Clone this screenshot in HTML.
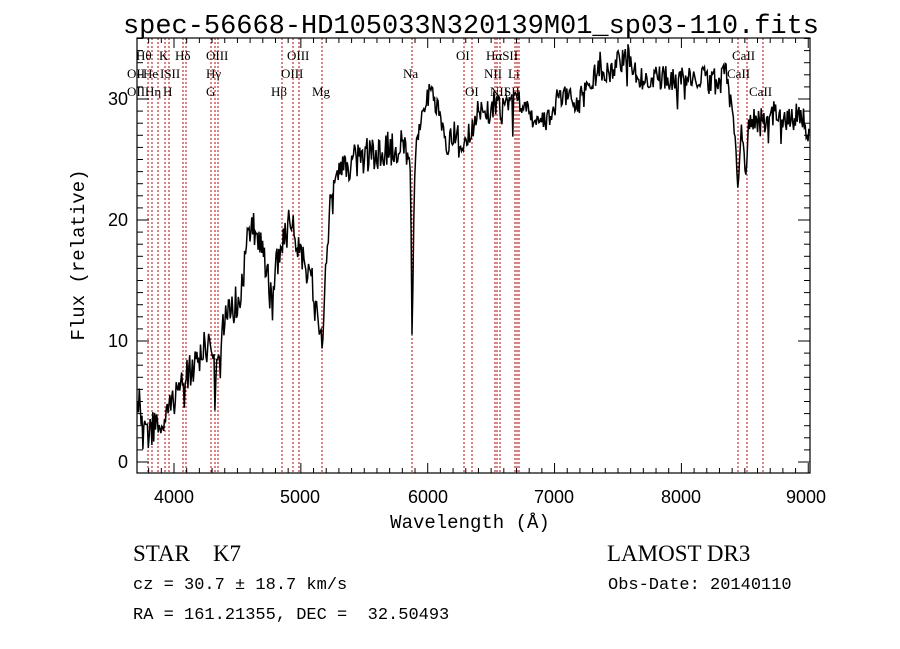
<!DOCTYPE html>
<html><head><meta charset="utf-8"><style>
html,body{margin:0;padding:0;background:#fff;width:900px;height:649px;overflow:hidden}
svg{display:block}
text{font-family:"Liberation Serif",serif;fill:#000;white-space:pre}
.t{font-family:"Liberation Sans",sans-serif;font-size:18px}
.l{font-size:13px}
</style></head><body>
<svg id="s" width="900" height="649" xmlns="http://www.w3.org/2000/svg" xml:space="preserve">
<rect width="900" height="649" fill="#fff"/>
<g id="red" stroke="#c00000" stroke-width="1" stroke-dasharray="2,2"></g>
<polyline id="spec" fill="none" stroke="#000" stroke-width="1.5" points=""/>
<rect x="137" y="38" width="673" height="435" fill="none" stroke="#000" stroke-width="1.2"/>
<g id="ticks" stroke="#000" stroke-width="1"></g>
<text x="471" y="33" text-anchor="middle" style="font-size:27px;font-family:'Liberation Mono',monospace" textLength="696">spec-56668-HD105033N320139M01_sp03-110.fits</text>
<text x="174" y="503" class="t" text-anchor="middle">4000</text><text x="300" y="503" class="t" text-anchor="middle">5000</text><text x="428" y="503" class="t" text-anchor="middle">6000</text><text x="554" y="503" class="t" text-anchor="middle">7000</text><text x="681" y="503" class="t" text-anchor="middle">8000</text><text x="806" y="503" class="t" text-anchor="middle">9000</text>
<text x="128" y="468" class="t" text-anchor="end">0</text><text x="128" y="347" class="t" text-anchor="end">10</text><text x="128" y="226" class="t" text-anchor="end">20</text><text x="128" y="105" class="t" text-anchor="end">30</text>
<text x="470" y="528" text-anchor="middle" style="font-size:19px;font-family:'Liberation Mono',monospace">Wavelength (Å)</text>
<text transform="translate(84,255) rotate(-90)" text-anchor="middle" style="font-size:19px;font-family:'Liberation Mono',monospace">Flux (relative)</text>
<g class="l">
<text x="136" y="60" class="l">Hθ</text><text x="159" y="60" class="l">K</text><text x="175" y="60" class="l">Hδ</text><text x="206" y="60" class="l">OIII</text><text x="287" y="60" class="l">OIII</text><text x="456" y="60" class="l">OI</text><text x="486" y="60" class="l">HαSII</text><text x="732" y="60" class="l">CaII</text>
<text x="127" y="78" class="l">OII</text><text x="143" y="78" class="l">He</text><text x="160" y="78" class="l">ISII</text><text x="206" y="78" class="l">Hγ</text><text x="281" y="78" class="l">OIII</text><text x="403" y="78" class="l">Na</text><text x="484" y="78" class="l">NII</text><text x="508" y="78" class="l">Li</text><text x="727" y="78" class="l">CaII</text>
<text x="127" y="96" class="l">OII</text><text x="145" y="96" class="l">Hη</text><text x="163" y="96" class="l">H</text><text x="206" y="96" class="l">G</text><text x="271" y="96" class="l">Hβ</text><text x="312" y="96" class="l">Mg</text><text x="465" y="96" class="l">OI</text><text x="490" y="96" class="l">NII</text><text x="504" y="96" class="l">SII</text><text x="749" y="96" class="l">CaII</text>
</g>
<text x="133" y="561" style="font-size:23px">STAR    K7</text>
<text x="607" y="561" style="font-size:23px">LAMOST DR3</text>
<text x="133" y="589" style="font-size:17px;font-family:'Liberation Mono',monospace">cz = 30.7 ± 18.7 km/s</text>
<text x="608" y="589" style="font-size:17px;font-family:'Liberation Mono',monospace">Obs-Date: 20140110</text>
<text x="133" y="619" style="font-size:17px;font-family:'Liberation Mono',monospace">RA = 161.21355, DEC =  32.50493</text>
</svg>
<script>
var NS="http://www.w3.org/2000/svg";
function ln(g,x1,y1,x2,y2){var l=document.createElementNS(NS,"line");l.setAttribute("x1",x1);l.setAttribute("y1",y1);l.setAttribute("x2",x2);l.setAttribute("y2",y2);g.appendChild(l);}
var red=document.getElementById("red");
[137,148,152,158,165,169,183,186,211,215,218,282,293,299,322,412,464,472,495,497,500,515,517,519,738,747,763].forEach(function(x){ln(red,x,38,x,473);});
var tk=document.getElementById("ticks");
function wx(w){return 174+(w-4000)*0.12685;}
for(var w=3800;w<=9000;w+=100){var x=wx(w);if(x<137||x>810)continue;var L=(w%1000==0)?10:5;ln(tk,x,473,x,473-L);ln(tk,x,38,x,38+L);}
for(var v=0;v<=35;v++){var y=462-v*12.1;if(y<38)continue;var L=(v%10==0)?12:6;ln(tk,137,y,137+L,y);ln(tk,810,y,810-L,y);}
var K=[[137,420],[140,400],[143,440],[150,430],[158,425],[165,425],[175,395],[185,375],[200,355],[208,345],[215,372],[225,315],[240,300],[250,225],[258,238],[265,265],[270,292],[280,250],[290,222],[300,250],[312,285],[320,330],[322,345],[325,290],[330,205],[345,165],[360,158],[380,152],[400,145],[410,150],[412,322],[415,150],[425,110],[430,92],[440,112],[445,150],[455,132],[465,145],[480,108],[489,115],[495,100],[500,110],[510,100],[520,102],[535,118],[545,125],[560,95],[570,102],[580,100],[590,85],[600,68],[610,72],[620,62],[628,50],[635,75],[650,78],[670,78],[690,80],[705,78],[715,85],[722,80],[725,58],[730,100],[735,130],[738,185],[742,125],[745,180],[750,115],[760,122],[770,112],[780,118],[790,122],[800,112],[808,130]];
var seed=12345;function rnd(){seed=(seed*16807)%2147483647;return seed/2147483647;}
var pts=[];
for(var x=137.5;x<=809;x+=0.9){
 var i=0;while(i<K.length-2&&K[i+1][0]<x)i++;
 var a=K[i],b=K[i+1];var t=(x-a[0])/(b[0]-a[0]);t=Math.max(0,Math.min(1,t));
 var y=a[1]+(b[1]-a[1])*t;
 var amp=(x<420)?36:26;
 y+=(rnd()-0.5)*amp;
 if(rnd()<0.05)y+=(rnd()-0.3)*50;
 y=Math.max(40,Math.min(472,y));
 pts.push(x.toFixed(1)+","+y.toFixed(1));
}
document.getElementById("spec").setAttribute("points",pts.join(" "));
</script>
</body></html>
